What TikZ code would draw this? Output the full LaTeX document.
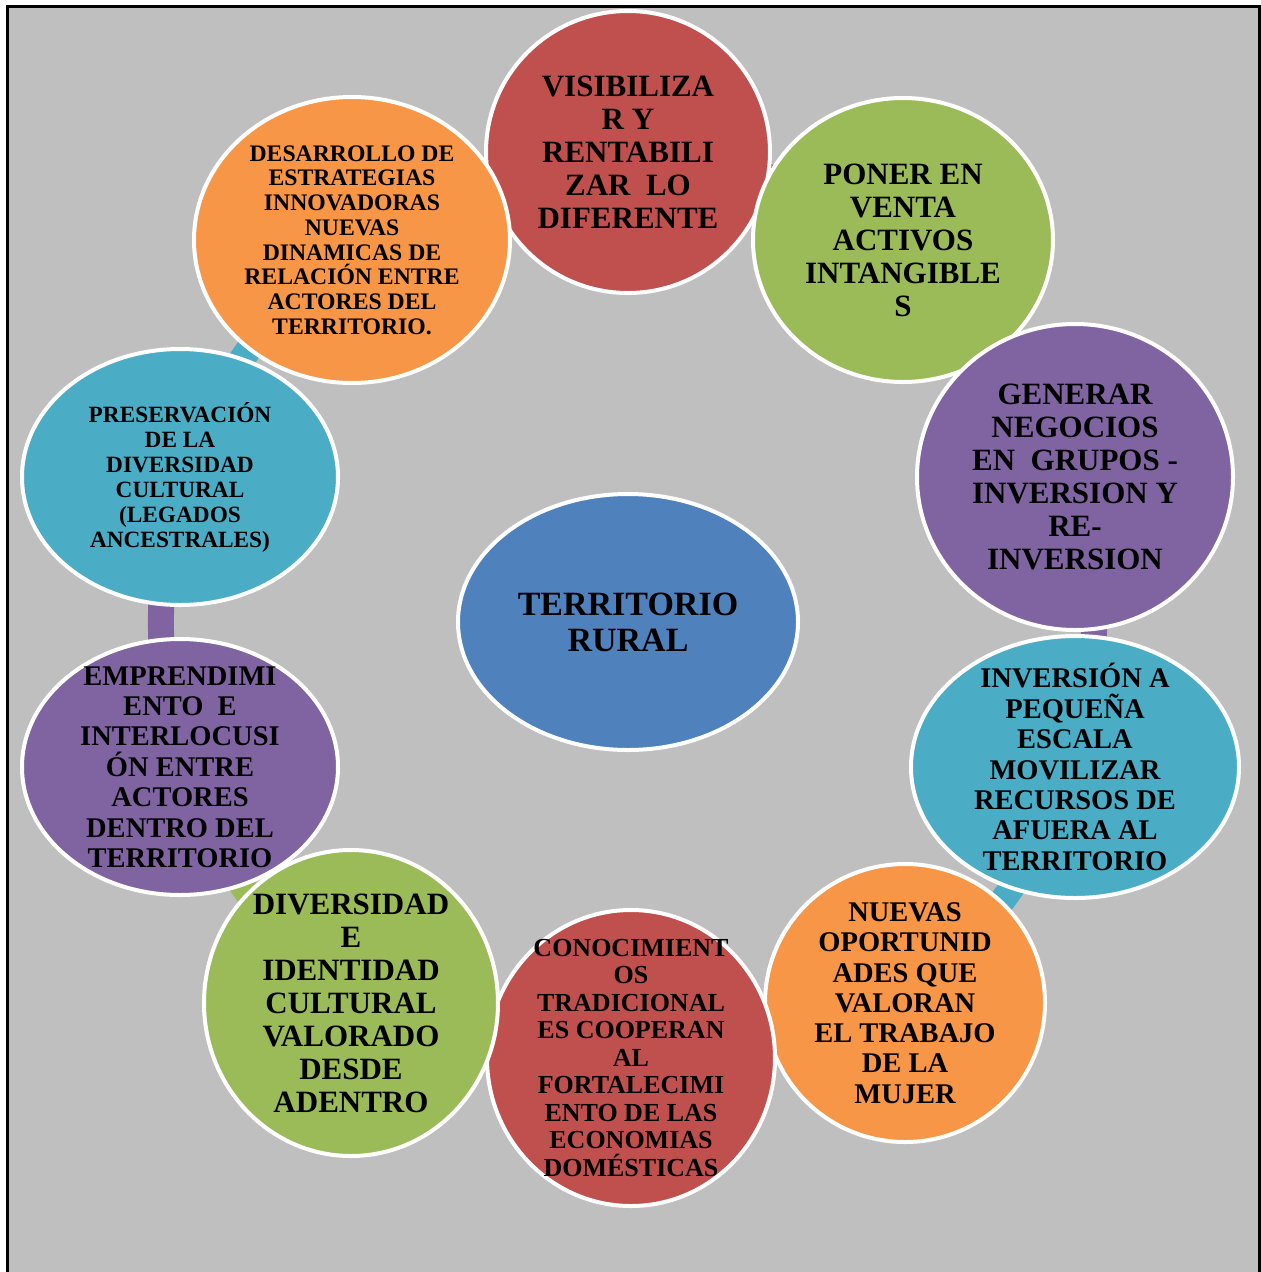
\documentclass[tikz,border=0pt]{standalone}
\usepackage{fontspec}
\setmainfont{Liberation Serif}
\usetikzlibrary{shapes.geometric}
\definecolor{cred}{HTML}{C0504D}
\definecolor{cgreen}{HTML}{9BBB59}
\definecolor{cpurple}{HTML}{8064A2}
\definecolor{ccyan}{HTML}{4BACC6}
\definecolor{corange}{HTML}{F79646}
\definecolor{cblue}{HTML}{4F81BD}
\definecolor{cgray}{HTML}{BFBFBF}
\pgfdeclarelayer{bglayer}
\pgfdeclarelayer{linklayer}
\pgfsetlayers{bglayer,linklayer,main}
\tikzset{
  bubble/.style={ellipse, draw=white, line width=4pt, inner sep=0pt, outer sep=0pt},
  txt/.style={align=center, inner sep=0pt, text=black},
  link/.style={line width=26pt, bend left=13},
}
\begin{document}
\begin{tikzpicture}[x=1pt,y=-1pt]
\useasboundingbox (0,0) rectangle (1261,1272);
\clip (0,0) rectangle (1261,1272);
\begin{pgfonlayer}{bglayer}
\draw[fill=cgray, draw=black, line width=3pt] (7.5,6.5) rectangle (1259.5,1300);
\end{pgfonlayer}
% bubbles
\node[bubble, fill=cred, minimum width=284pt, minimum height=282pt] (n1) at (628,152) {};
\node[txt, font=\fontsize{31}{33}\bfseries\selectfont] (t1) at (n1) {VISIBILIZA\\R Y\\RENTABILI\\ZAR\ \ LO\\DIFERENTE};
\node[bubble, fill=cgreen, minimum width=300pt, minimum height=284pt] (n2) at (903,240) {};
\node[txt, font=\fontsize{31}{33}\bfseries\selectfont] (t2) at (n2) {PONER EN\\VENTA\\ACTIVOS\\INTANGIBLE\\S};
\node[bubble, fill=cpurple, minimum width=316pt, minimum height=306pt] (n3) at (1075,477) {};
\node[txt, font=\fontsize{31}{33}\bfseries\selectfont] (t3) at (n3) {GENERAR\\NEGOCIOS\\EN\ \ GRUPOS -\\INVERSION Y\\RE-\\INVERSION};
\node[bubble, fill=ccyan, minimum width=328pt, minimum height=262pt] (n4) at (1075,767) {};
\node[txt, font=\fontsize{28.5}{30.4}\bfseries\selectfont] (t4) at (n4) {INVERSIÓN A\\PEQUEÑA\\ESCALA\\MOVILIZAR\\RECURSOS DE\\AFUERA AL\\TERRITORIO};
\node[bubble, fill=corange, minimum width=280pt, minimum height=278pt] (n5) at (905,1003) {};
\node[txt, font=\fontsize{28.5}{30.3}\bfseries\selectfont] (t5) at (n5) {NUEVAS\\OPORTUNID\\ADES QUE\\VALORAN\\EL TRABAJO\\DE LA\\MUJER};
\node[bubble, fill=cred, minimum width=288pt, minimum height=296pt] (n6) at (631,1058) {};
\node[txt, font=\fontsize{26}{27.5}\bfseries\selectfont] (t6) at (n6) {CONOCIMIENT\\OS\\TRADICIONAL\\ES COOPERAN\\AL\\FORTALECIMI\\ENTO DE LAS\\ECONOMIAS\\DOMÉSTICAS};
\node[bubble, fill=cgreen, minimum width=294pt, minimum height=306pt] (n7) at (351,1003) {};
\node[txt, font=\fontsize{31}{33}\bfseries\selectfont] (t7) at (n7) {DIVERSIDAD\\E\\IDENTIDAD\\CULTURAL\\VALORADO\\DESDE\\ADENTRO};
\node[bubble, fill=cpurple, minimum width=316pt, minimum height=256pt] (n8) at (180,767) {};
\node[txt, font=\fontsize{28.5}{30.4}\bfseries\selectfont] (t8) at (n8) {EMPRENDIMI\\ENTO\ \ E\\INTERLOCUSI\\ÓN ENTRE\\ACTORES\\DENTRO DEL\\TERRITORIO};
\node[bubble, fill=ccyan, minimum width=316pt, minimum height=256pt] (n9) at (180,477) {};
\node[txt, font=\fontsize{23.3}{25}\bfseries\selectfont] (t9) at (n9) {PRESERVACIÓN\\DE LA\\DIVERSIDAD\\CULTURAL\\(LEGADOS\\ANCESTRALES)};
\node[bubble, fill=corange, minimum width=316pt, minimum height=286pt] (n10) at (352,240) {};
\node[txt, font=\fontsize{23.7}{24.7}\bfseries\selectfont] (t10) at (n10) {DESARROLLO DE\\ESTRATEGIAS\\INNOVADORAS\\NUEVAS\\DINAMICAS DE\\RELACIÓN ENTRE\\ACTORES DEL\\TERRITORIO.};
% centre
\node[bubble, fill=cblue, minimum width=340pt, minimum height=256pt] (c) at (628,622) {};
\node[txt, font=\fontsize{34}{36}\bfseries\selectfont] (tc) at (c) {TERRITORIO\\RURAL};
% connectors behind the bubbles
\begin{pgfonlayer}{linklayer}
\draw[link, cred] (n1.center) to (n2.center);
\draw[link, cgreen] (n2.center) to (n3.center);
\draw[link, cpurple] (n3.center) to (n4.center);
\draw[link, ccyan] (n4.center) to (n5.center);
\draw[link, corange] (n5.center) to (n6.center);
\draw[link, cred] (n6.center) to (n7.center);
\draw[link, cgreen] (n7.center) to (n8.center);
\draw[link, cpurple] (n8.center) to (n9.center);
\draw[link, ccyan] (n9.center) to (n10.center);
\draw[link, corange] (n10.center) to (n1.center);
\end{pgfonlayer}
\end{tikzpicture}
\end{document}
